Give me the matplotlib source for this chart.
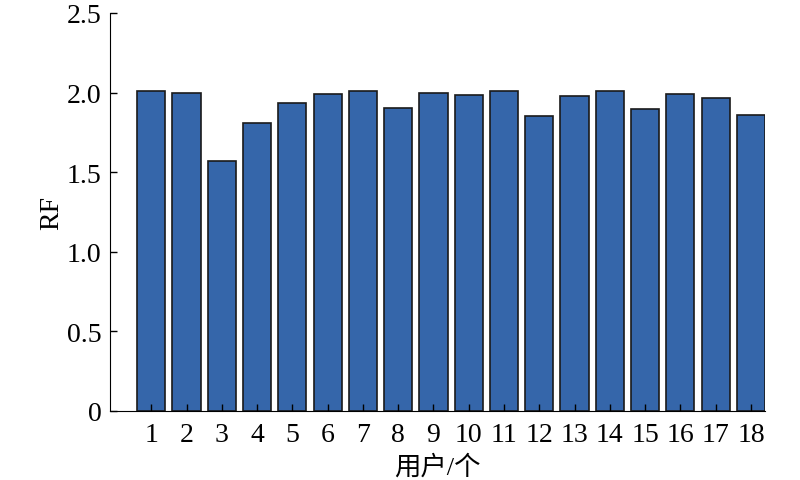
import matplotlib
matplotlib.use('Agg')

import numpy as np
from matplotlib import pyplot as plt

# Datos del gráfico
usuarios = list(range(1, 19))
rf = [2.01, 2.00, 1.57, 1.81, 1.935, 1.99, 2.01, 1.90, 2.00,
      1.985, 2.01, 1.855, 1.98, 2.01, 1.895, 1.99, 1.965, 1.86]
yticks = [0, 0.5, 1.0, 1.5, 2.0, 2.5]
ytick_labels = ['0', '0.5', '1.0', '1.5', '2.0', '2.5']

plt.rcParams['font.family'] = ['Liberation Serif', 'Noto Sans CJK SC']

fig = plt.figure(figsize=(8, 4.81), dpi=100)
ax = fig.add_axes([0.1375, 0.1435, 0.8188, 0.8275])

ax.bar(usuarios, rf, width=0.8, color='#3566aa', edgecolor='#1a1a1a', linewidth=1.2)

ax.set_xlim(-0.17, 18.4)
ax.set_ylim(0, 2.5)
ax.set_xticks(usuarios)
ax.set_yticks(yticks)
ax.set_yticklabels(ytick_labels)
ax.tick_params(direction='in', labelsize=20, length=5, width=1)
ax.tick_params(axis='x', pad=8)
ax.tick_params(axis='y', pad=6)
ax.spines['top'].set_visible(False)
ax.spines['right'].set_visible(False)

ax.set_ylabel('RF', fontsize=20, labelpad=2)
ax.set_xlabel('用户/个', fontsize=19, labelpad=5)

plt.savefig('out.png', dpi=100)
